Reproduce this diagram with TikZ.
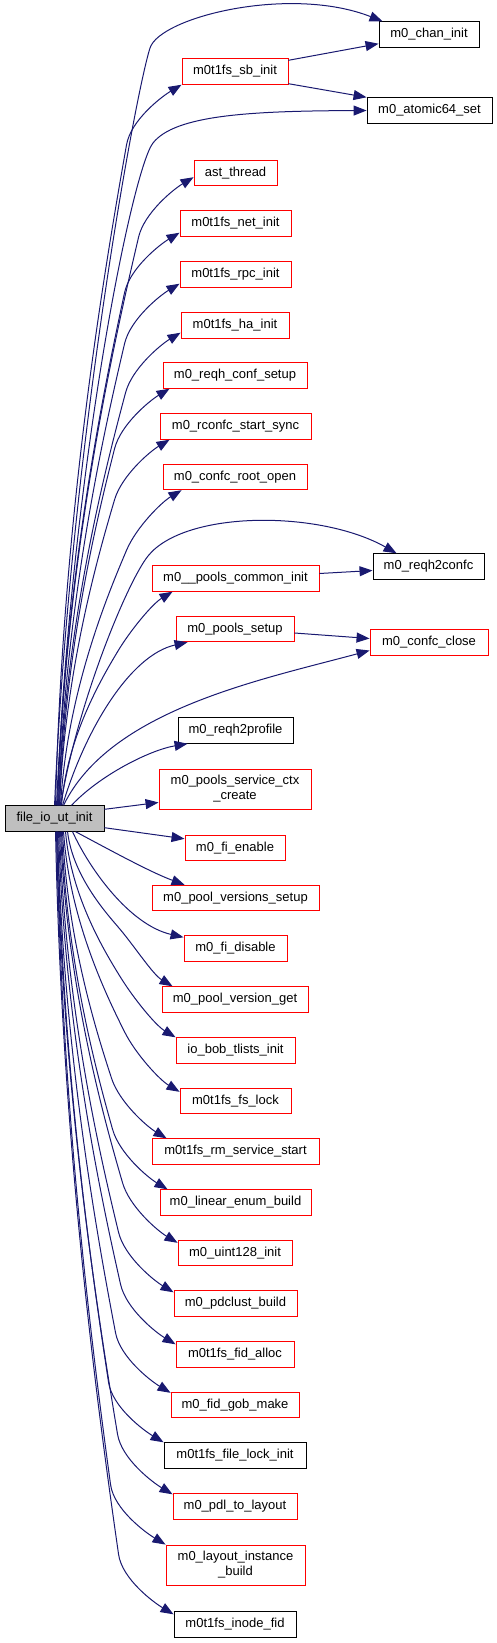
\documentclass[tikz,border=0pt]{standalone}
\usepackage{fontspec}
\setmainfont{Liberation Sans}
\usetikzlibrary{arrows.meta,calc}
\definecolor{edgeblue}{HTML}{191970}
\definecolor{srcgray}{HTML}{BFBFBF}
\definecolor{boxred}{HTML}{FF0000}
\tikzset{
  fn/.style={draw=boxred, line width=0.9pt, rectangle, inner sep=0pt, minimum height=25.5pt,
    font=\fontsize{13}{15}\selectfont, align=center, fill=white},
  fnb/.style={fn, draw=black},
  fnsrc/.style={fn, draw=black, fill=srcgray},
  callarrow/.style={draw=edgeblue, line width=1pt, -{Triangle[length=13pt,width=10pt]}},
}
\newcommand\upcall[2]{%
  \draw[callarrow] let \p1=(#1), \p2=(#2), \p3=(\x2-55pt,\y2-60pt),
    \p4=({\x1+0.1*(\x3-\x1)},{\y1+0.45*(\y3-(\y1))}) in
    (\p1) .. controls (\p4) and ($(\p3)!0.3!(\p4)$) .. (\p3)
    .. controls ($(\p3)!-25pt!(\p4)$) and (\x2-20pt,\y2-12pt) .. (\p2);}
\newcommand\downcall[2]{%
  \draw[callarrow] let \p1=(#1), \p2=(#2), \p3=(\x2-55pt,\y2+60pt),
    \p4=({\x1+0.1*(\x3-\x1)},{\y1+0.45*(\y3-(\y1))}) in
    (\p1) .. controls (\p4) and ($(\p3)!0.3!(\p4)$) .. (\p3)
    .. controls ($(\p3)!-25pt!(\p4)$) and (\x2-20pt,\y2+12pt) .. (\p2);}
\begin{document}
\begin{tikzpicture}[x=1pt,y=-1pt]
\useasboundingbox (0,0) rectangle (497,1643);
% nodes
\node[fnb, minimum width=100pt] (chan) at (429,34.5) {m0\_chan\_init};
\node[fn, minimum width=106pt] (sbinit) at (235,71.5) {m0t1fs\_sb\_init};
\node[fnb, minimum width=125pt] (atomic) at (429.5,110.5) {m0\_atomic64\_set};
\node[fn, minimum width=83pt] (ast) at (235.5,173) {ast\_thread};
\node[fn, minimum width=111pt] (net) at (235.5,223.5) {m0t1fs\_net\_init};
\node[fn, minimum width=111pt] (rpc) at (235.5,274.5) {m0t1fs\_rpc\_init};
\node[fn, minimum width=108pt] (ha) at (235,325.5) {m0t1fs\_ha\_init};
\node[fn, minimum width=144pt] (reqhconf) at (235,375.5) {m0\_reqh\_conf\_setup};
\node[fn, minimum width=151pt] (rconfc) at (235.5,426.5) {m0\_rconfc\_start\_sync};
\node[fn, minimum width=144pt] (rootopen) at (235,477) {m0\_confc\_root\_open};
\node[fnb, minimum width=111pt] (reqhconfc) at (428.5,566.5) {m0\_reqh2confc};
\node[fn, minimum width=167pt] (poolscommon) at (235.5,578.5) {m0\_\_pools\_common\_init};
\node[fn, minimum width=118pt] (poolssetup) at (235,629) {m0\_pools\_setup};
\node[fn, minimum width=118pt] (confcclose) at (429,642.5) {m0\_confc\_close};
\node[fnb, minimum width=115pt] (reqhprofile) at (235.5,730.5) {m0\_reqh2profile};
\node[fn, minimum width=152pt, minimum height=40pt] (svcctx) at (235,789) {m0\_pools\_service\_ctx\\\_create};
\node[fnsrc, minimum width=99pt] (src) at (54.5,818.5) {file\_io\_ut\_init};
\node[fn, minimum width=100pt] (fienable) at (235,848) {m0\_fi\_enable};
\node[fn, minimum width=167pt] (pvsetup) at (235.5,898) {m0\_pool\_versions\_setup};
\node[fn, minimum width=103pt] (fidisable) at (235.5,948.5) {m0\_fi\_disable};
\node[fn, minimum width=146pt] (pvget) at (235,999.5) {m0\_pool\_version\_get};
\node[fn, minimum width=119pt] (iobob) at (235.5,1050.5) {io\_bob\_tlists\_init};
\node[fn, minimum width=111pt] (fslock) at (235.5,1101) {m0t1fs\_fs\_lock};
\node[fn, minimum width=167pt] (rmstart) at (235.5,1151.5) {m0t1fs\_rm\_service\_start};
\node[fn, minimum width=151pt] (linenum) at (235.5,1202.5) {m0\_linear\_enum\_build};
\node[fn, minimum width=114pt] (uint) at (235,1253) {m0\_uint128\_init};
\node[fn, minimum width=123pt] (pdclust) at (235.5,1303.5) {m0\_pdclust\_build};
\node[fn, minimum width=118pt] (fidalloc) at (235,1354.5) {m0t1fs\_fid\_alloc};
\node[fn, minimum width=128pt] (gobmake) at (235,1405) {m0\_fid\_gob\_make};
\node[fnb, minimum width=142pt] (filelock) at (235,1455.5) {m0t1fs\_file\_lock\_init};
\node[fn, minimum width=124pt] (pdl) at (235,1506.5) {m0\_pdl\_to\_layout};
\node[fn, minimum width=139pt, minimum height=40pt] (layinst) at (235.5,1565) {m0\_layout\_instance\\\_build};
\node[fnb, minimum width=122pt] (inode) at (235,1624.5) {m0t1fs\_inode\_fid};
% edges to the right column
\draw[callarrow] ([xshift=50pt]src.north west) .. controls (70,450) and (135,95) .. (150,48)
  .. controls (160,17) and (290,-15) .. ([xshift=4pt]chan.north west);
\draw[callarrow] ([xshift=52pt]src.north west) .. controls (72,460) and (133,168) .. (153,143)
  .. controls (175,115) and (250,111) .. (atomic.west);
\draw[callarrow] ([xshift=56pt]src.north west) .. controls (78,700) and (128,581) .. (148,556)
  .. controls (185,510) and (320,510) .. ([xshift=24pt]reqhconfc.north west);
\draw[callarrow] ([xshift=59pt]src.north west) .. controls (110,710) and (260,680) .. ([yshift=-8pt]confcclose.west);
\draw[callarrow] ([yshift=-2pt]sbinit.north east) -- ([yshift=4pt]chan.south west);
\draw[callarrow] ([yshift=1pt]sbinit.south east) -- (atomic.north west);
\draw[callarrow] ([yshift=5pt]poolscommon.east) -- ([yshift=-4pt]reqhconfc.west);
\draw[callarrow] ([yshift=-4pt]poolssetup.east) -- ([yshift=4pt]confcclose.west);
% upward edges
\upcall{[xshift=51pt]src.north west}{sbinit.south west}
\upcall{[xshift=53pt]src.north west}{[yshift=9pt]ast.south west}
\upcall{[xshift=53pt]src.north west}{[yshift=4pt]net.south west}
\upcall{[xshift=54pt]src.north west}{[yshift=4pt]rpc.south west}
\upcall{[xshift=54pt]src.north west}{[yshift=6pt]ha.south west}
\upcall{[xshift=55pt]src.north west}{[xshift=7pt]reqhconf.south west}
\upcall{[xshift=55pt]src.north west}{[xshift=10pt]rconfc.south west}
\upcall{[xshift=56pt]src.north west}{[xshift=19pt]rootopen.south west}
\upcall{[xshift=57pt]src.north west}{[xshift=21pt]poolscommon.south west}
\draw[callarrow] ([xshift=58pt]src.north west) .. controls (85,730) and (130,655) .. ([xshift=12pt]poolssetup.south west);
\draw[callarrow] ([xshift=67pt]src.north west) .. controls (100,775) and (150,750) .. ([xshift=10pt]reqhprofile.south west);
% near edges
\draw[callarrow] ([yshift=-4pt]src.north east) -- ([yshift=7pt]svcctx.south west);
\draw[callarrow] ([yshift=4pt]src.south east) -- ([yshift=-4pt]fienable.north west);
\draw[callarrow] ([xshift=71pt]src.south west) .. controls (110,850) and (150,872) .. ([xshift=33pt]pvsetup.north west);
\draw[callarrow] ([xshift=68pt]src.south west) .. controls (90,870) and (130,925) .. ([yshift=-2pt]fidisable.north west);
% downward edges
\downcall{[xshift=63pt]src.south west}{[xshift=11pt]pvget.north west}
\downcall{[xshift=61pt]src.south west}{iobob.north west}
\downcall{[xshift=59pt]src.south west}{[yshift=-4pt]fslock.north west}
\downcall{[xshift=58pt]src.south west}{[xshift=15pt]rmstart.north west}
\downcall{[xshift=57pt]src.south west}{[xshift=8pt]linenum.north west}
\downcall{[xshift=56pt]src.south west}{[yshift=-3pt]uint.north west}
\downcall{[xshift=55pt]src.south west}{[yshift=-2pt]pdclust.north west}
\downcall{[xshift=54pt]src.south west}{[yshift=-3pt]fidalloc.north west}
\downcall{[xshift=53pt]src.south west}{[yshift=-1pt]gobmake.north west}
\downcall{[xshift=53pt]src.south west}{filelock.north west}
\downcall{[xshift=52pt]src.south west}{[yshift=-1pt]pdl.north west}
\downcall{[xshift=52pt]src.south west}{layinst.north west}
\downcall{[xshift=51pt]src.south west}{[yshift=-3pt]inode.north west}
\end{tikzpicture}
\end{document}
